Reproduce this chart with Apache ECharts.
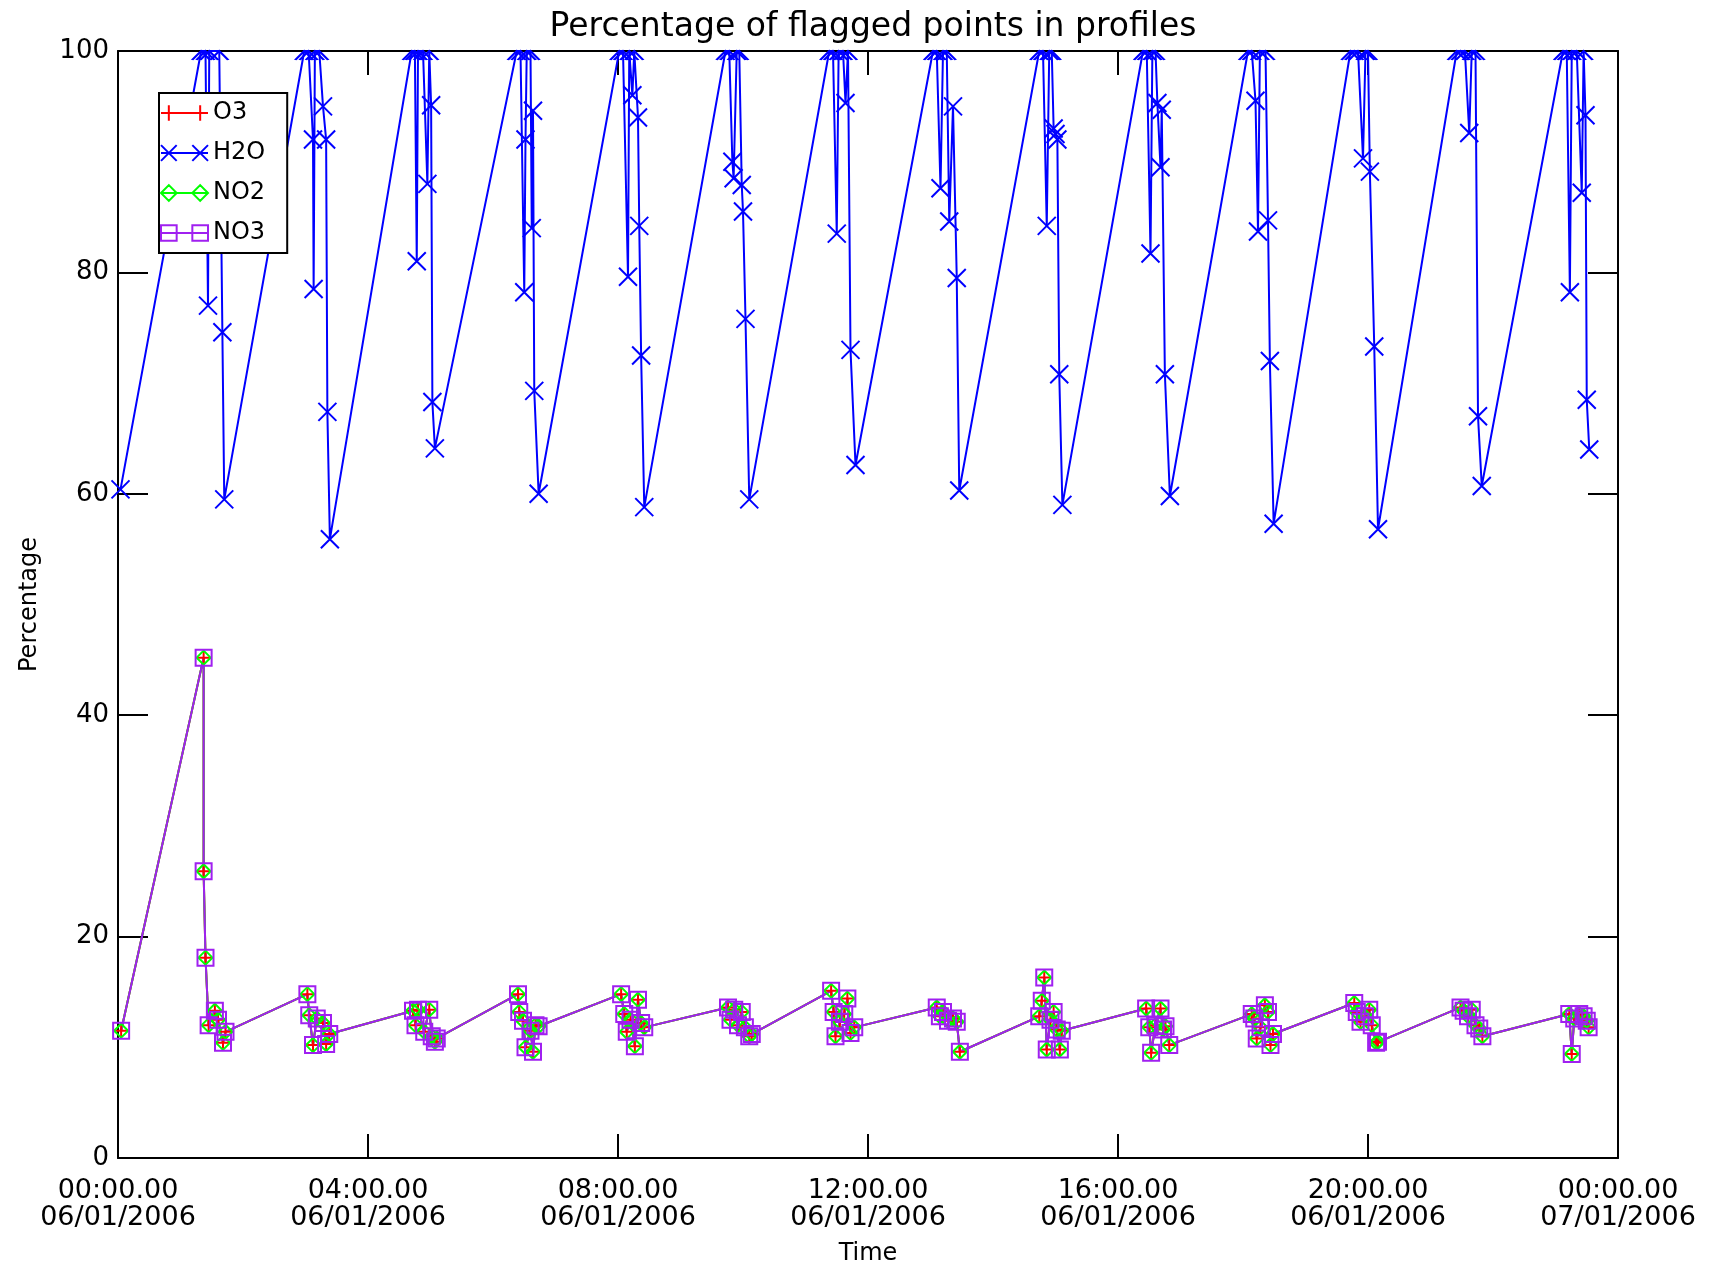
<!DOCTYPE html>
<html>
<head>
<meta charset="utf-8">
<title>Percentage of flagged points in profiles</title>
<script src="https://cdn.jsdelivr.net/npm/echarts@6/dist/echarts.min.js"></script>
<style>
	html, body { margin: 0; padding: 0; background: #fff; }
	#chart { width: 1715px; height: 1272px; }
</style>
</head>
<body>
<div id="chart"></div>
<script>
/* time of each profile, in hours from 06/01/2006 00:00 */
var h2oTime = [
	0.04,
	1.33, 1.40, 1.44, 1.46, 1.62, 1.67, 1.70,
	2.98, 3.05, 3.12, 3.13, 3.15, 3.22, 3.28, 3.33, 3.35, 3.39,
	4.70, 4.75, 4.78, 4.80, 4.88, 4.95, 4.98, 5.01, 5.03, 5.07,
	6.38, 6.44, 6.50, 6.52, 6.54, 6.60, 6.62, 6.64, 6.66, 6.73,
	8.02, 8.08, 8.16, 8.18, 8.23, 8.26, 8.32, 8.34, 8.37, 8.42,
	9.72, 9.78, 9.83, 9.85, 9.90, 9.94, 9.98, 10.00, 10.04, 10.10,
	11.38, 11.44, 11.50, 11.53, 11.60, 11.64, 11.68, 11.72, 11.80,
	13.04, 13.10, 13.16, 13.20, 13.26, 13.30, 13.36, 13.42, 13.46,
	14.74, 14.80, 14.86, 14.90, 14.94, 14.97, 15.00, 15.03, 15.06, 15.11,
	16.40, 16.46, 16.52, 16.55, 16.60, 16.63, 16.68, 16.70, 16.75, 16.83,
	18.08, 18.14, 18.20, 18.24, 18.27, 18.36, 18.40, 18.43, 18.49,
	19.72, 19.78, 19.84, 19.92, 19.96, 20.00, 20.03, 20.10, 20.16,
	21.42, 21.48, 21.55, 21.62, 21.66, 21.72, 21.76, 21.82,
	23.12, 23.18, 23.23, 23.26, 23.34, 23.42, 23.45, 23.48, 23.50, 23.54
];
var h2oPct = [
	60.4,
	100, 100, 77, 100, 100, 74.6, 59.5,
	100, 100, 92, 78.5, 100, 100, 95, 92, 67.4, 55.9,
	100, 100, 81, 100, 100, 88, 100, 95.1, 68.3, 64.1,
	100, 100, 78.2, 92, 100, 100, 84, 94.6, 69.3, 60,
	100, 100, 79.6, 100, 96, 100, 94, 84.2, 72.5, 58.8,
	100, 100, 90, 88.5, 100, 100, 87.9, 85.5, 75.8, 59.5,
	100, 100, 83.5, 100, 100, 95.3, 100, 73, 62.6,
	100, 100, 87.6, 100, 100, 84.6, 95, 79.5, 60.3,
	100, 100, 84.2, 100, 100, 93, 92.5, 92, 70.8, 59,
	100, 100, 81.7, 100, 100, 95.3, 89.5, 94.7, 70.8, 59.8,
	100, 100, 95.5, 83.7, 100, 100, 84.7, 72, 57.3,
	100, 100, 100, 90.3, 100, 100, 89.1, 73.3, 56.8,
	100, 100, 100, 92.6, 100, 100, 67, 60.7,
	100, 100, 78.2, 100, 100, 87.2, 100, 94.2, 68.5, 64
];

/* O3, NO2 and NO3 give the same percentages, they lie on top of each other */
var traceTime = [
	0.05,
	1.37, 1.37, 1.40, 1.45, 1.55, 1.60, 1.68, 1.72,
	3.03, 3.06, 3.12, 3.18, 3.28, 3.33, 3.38,
	4.72, 4.76, 4.80, 4.90, 4.98, 5.02, 5.07, 5.10,
	6.40, 6.42, 6.48, 6.52, 6.60, 6.64, 6.68, 6.73,
	8.05, 8.10, 8.14, 8.20, 8.27, 8.32, 8.37, 8.42,
	9.76, 9.80, 9.86, 9.92, 9.98, 10.03, 10.10, 10.14,
	11.41, 11.45, 11.48, 11.55, 11.62, 11.67, 11.72, 11.78,
	13.10, 13.15, 13.20, 13.28, 13.36, 13.42, 13.47,
	14.74, 14.78, 14.82, 14.86, 14.92, 14.97, 15.02, 15.07, 15.10,
	16.45, 16.50, 16.53, 16.60, 16.68, 16.72, 16.76, 16.82,
	18.14, 18.18, 18.22, 18.28, 18.35, 18.40, 18.44, 18.48,
	19.78, 19.82, 19.88, 19.95, 20.02, 20.06, 20.13, 20.16,
	21.48, 21.53, 21.60, 21.66, 21.72, 21.78, 21.83,
	23.22, 23.26, 23.30, 23.38, 23.45, 23.50, 23.53
];
var tracePct = [
	11.5,
	45.2, 25.9, 18.1, 12.0, 13.3, 12.5, 10.4, 11.4,
	14.8, 12.9, 10.2, 12.6, 12.2, 10.3, 11.2,
	13.3, 12.0, 13.4, 11.4, 13.4, 11.0, 10.5, 10.8,
	14.8, 13.2, 12.4, 10.0, 11.5, 9.6, 12.0, 11.9,
	14.8, 13.0, 11.4, 12.5, 10.1, 14.3, 12.2, 11.8,
	13.6, 12.5, 13.4, 12.0, 13.2, 11.8, 11.0, 11.2,
	15.1, 13.2, 11.0, 12.3, 13.0, 14.4, 11.3, 11.8,
	13.6, 12.8, 13.2, 12.4, 12.6, 12.3, 9.6,
	12.8, 14.2, 16.3, 9.8, 12.5, 13.2, 11.6, 9.8, 11.5,
	13.5, 11.8, 9.5, 12.0, 13.5, 11.6, 11.9, 10.2,
	13.0, 12.6, 10.8, 11.8, 13.8, 13.2, 10.2, 11.2,
	14.0, 13.2, 12.3, 12.8, 13.4, 12.0, 10.4, 10.5,
	13.6, 13.3, 12.8, 13.4, 12.0, 11.7, 11.0,
	13.0, 9.4, 12.6, 13.0, 12.8, 12.4, 11.8
];

var tickTime = ['00:00.00', '04:00.00', '08:00.00', '12:00.00', '16:00.00', '20:00.00', '00:00.00'];
var tickDate = ['06/01/2006', '06/01/2006', '06/01/2006', '06/01/2006', '06/01/2006', '06/01/2006', '07/01/2006'];

var FONT = 'DejaVu Sans';
var CROSS = 'path://M0,0L10,10M10,0L0,10';
var HALF_CROSS = 'path://M0,10L5,5L10,10'; // cross cut by the top of the frame
var PLUS = 'path://M5,0L5,10M0,5L10,5';

/* legend samples: a line with the marker at both ends */
var KEY_PLUS = 'path://M0,8L48,8M8,0L8,16M40,0L40,16';
var KEY_CROSS = 'path://M0,8L48,8M0,0L16,16M0,16L16,0M32,0L48,16M32,16L48,0';
var KEY_DIAMOND = 'path://M0,8L48,8M0,8L8,0L16,8L8,16ZM32,8L40,0L48,8L40,16Z';
var KEY_SQUARE = 'path://M0,8L48,8M0,0L16,0L16,16L0,16ZM32,0L48,0L48,16L32,16Z';

function pairs(xs, ys){
	var out = [], i;
	for (i = 0; i < xs.length; i++) {
		out.push([xs[i], ys[i]]);
	}
	return out;
}

// points sitting on 100% only show the lower half of their cross
function h2oPoints(){
	return pairs(h2oTime, h2oPct).map(function(p){
		if (p[1] >= 100) {
			return { value: p, symbol: HALF_CROSS, symbolSize: [18, 9], symbolOffset: [0, 4.5] };
		}
		return p;
	});
}

function axisX(pos){
	return {
		type: 'value', position: pos, min: 0, max: 24, interval: 4,
		axisLine: { show: true, onZero: false, lineStyle: { color: '#000', width: 2 } },
		axisTick: { show: true, inside: true, length: 24, lineStyle: { color: '#000', width: 2 } },
		splitLine: { show: false },
		axisLabel: { show: false }
	};
}
function axisY(pos){
	return {
		type: 'value', position: pos, min: 0, max: 100, interval: 20,
		axisLine: { show: true, onZero: false, lineStyle: { color: '#000', width: 2 } },
		axisTick: { show: true, inside: true, length: 30, lineStyle: { color: '#000', width: 2 } },
		splitLine: { show: false },
		axisLabel: { show: false }
	};
}

var xBottom = axisX('bottom');
xBottom.axisLabel = {
	show: true, color: '#000', fontFamily: FONT, fontSize: 27, lineHeight: 27, margin: 19,
	formatter: function(v){
		var i = Math.round(v / 4);
		return tickTime[i] + '\n' + tickDate[i];
	}
};
xBottom.name = 'Time';
xBottom.nameLocation = 'middle';
xBottom.nameGap = 84;
xBottom.nameTextStyle = { color: '#000', fontFamily: FONT, fontSize: 24 };

var yLeft = axisY('left');
yLeft.axisLabel = { show: true, color: '#000', fontFamily: FONT, fontSize: 26, margin: 9 };
yLeft.name = 'Percentage';
yLeft.nameLocation = 'middle';
yLeft.nameGap = 76;
yLeft.nameTextStyle = { color: '#000', fontFamily: FONT, fontSize: 24 };

function lineSeries(name, color, data, symbol, size){
	return {
		name: name, type: 'line', data: data,
		symbol: symbol, symbolSize: size, showAllSymbol: true,
		lineStyle: { color: color, width: 2 },
		itemStyle: { color: 'transparent', borderColor: color, borderWidth: 2 },
		emphasis: { disabled: true }
	};
}

function key(name, color, icon){
	return { name: name, icon: icon, itemStyle: { color: 'transparent', borderColor: color, borderWidth: 2 } };
}

var chart = echarts.init(document.getElementById('chart'));
chart.setOption({
	animation: false,
	backgroundColor: '#fff',
	title: {
		text: 'Percentage of flagged points in profiles',
		left: 868, top: 6, textAlign: 'center',
		textStyle: { color: '#000', fontFamily: FONT, fontSize: 33, fontWeight: 'normal' }
	},
	legend: {
		orient: 'vertical', left: 159, top: 93,
		backgroundColor: '#fff', borderColor: '#000', borderWidth: 2,
		padding: [8, 22, 8, 1], itemGap: 16, itemWidth: 47, itemHeight: 16,
		textStyle: { color: '#000', fontFamily: FONT, fontSize: 24 },
		data: [
			key('O3', '#ff0000', KEY_PLUS),
			key('H2O', '#0000ff', KEY_CROSS),
			key('NO2', '#00ff00', KEY_DIAMOND),
			key('NO3', '#a020f0', KEY_SQUARE)
		]
	},
	grid: { left: 118, right: 97, top: 51, bottom: 114 },
	xAxis: [xBottom, axisX('top')],
	yAxis: [yLeft, axisY('right')],
	series: [
		lineSeries('O3', '#ff0000', pairs(traceTime, tracePct), PLUS, 12),
		lineSeries('H2O', '#0000ff', h2oPoints(), CROSS, 18),
		lineSeries('NO2', '#00ff00', pairs(traceTime, tracePct), 'diamond', 14),
		lineSeries('NO3', '#a020f0', pairs(traceTime, tracePct), 'rect', 16)
	]
});
</script>
</body>
</html>
